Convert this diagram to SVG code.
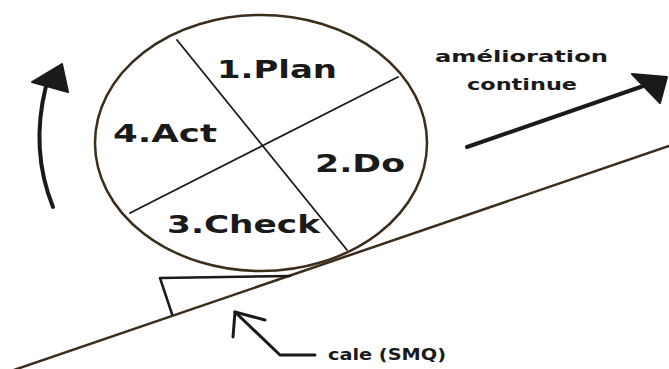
<svg xmlns="http://www.w3.org/2000/svg" width="669" height="369" viewBox="0 0 669 369">
<style>
.lbl{font-family:"DejaVu Sans","Liberation Sans",sans-serif;font-weight:bold;fill:#1a1a1a}
.big{font-size:24px}
.sm{font-size:15px}
.ink{fill:none;stroke:#1a1a1a;stroke-linecap:round;stroke-linejoin:round}
.brown{fill:none;stroke:#3b2c1c;stroke-linecap:round}
</style>
<rect width="669" height="369" fill="#ffffff"/>
<g id="wheel">
<ellipse cx="261" cy="143" rx="166" ry="128" fill="#ffffff" stroke="#3b2c1c" stroke-width="2.5"/>
<line class="ink" x1="177" y1="40" x2="347" y2="250" stroke-width="1.8"/>
<line class="ink" x1="398" y1="77" x2="130" y2="213" stroke-width="1.8"/>
<text class="lbl big" x="217" y="78" textLength="120" lengthAdjust="spacingAndGlyphs">1.Plan</text>
<text class="lbl big" x="113" y="142" textLength="104" lengthAdjust="spacingAndGlyphs">4.Act</text>
<text class="lbl big" x="315" y="172" textLength="90" lengthAdjust="spacingAndGlyphs">2.Do</text>
<text class="lbl big" x="167" y="233" textLength="153" lengthAdjust="spacingAndGlyphs">3.Check</text>
</g>
<g id="slope">
<line class="brown" x1="8" y1="372" x2="669" y2="146" stroke-width="2.5"/>
</g>
<g id="wedge">
<polyline class="ink" points="290,276 160,278 172,314" stroke-width="2.5"/>
</g>
<g id="improvement">
<text class="lbl sm" x="435" y="62" textLength="173" lengthAdjust="spacingAndGlyphs">amélioration</text>
<text class="lbl sm" x="467" y="90" textLength="110" lengthAdjust="spacingAndGlyphs">continue</text>
</g>
<g id="cale">
<text class="lbl sm" x="328" y="360" textLength="118" lengthAdjust="spacingAndGlyphs">cale (SMQ)</text>
</g>
<g id="connectors">
<line class="ink" x1="467" y1="147" x2="652" y2="83" stroke-width="4"/>
<polygon points="667,77 632,74 660,103" fill="#1a1a1a" stroke="#1a1a1a" stroke-width="2" stroke-linejoin="round"/>
<path class="ink" d="M53,207 Q30,150 46,86" stroke-width="4"/>
<polygon points="62,64 32,82 68,92" fill="#1a1a1a" stroke="#1a1a1a" stroke-width="2" stroke-linejoin="round"/>
<polyline class="ink" points="233,337 235,312 265,320" stroke-width="3"/>
<polyline class="ink" points="235,312 280,355 315,355" stroke-width="3"/>
</g>
</svg>
